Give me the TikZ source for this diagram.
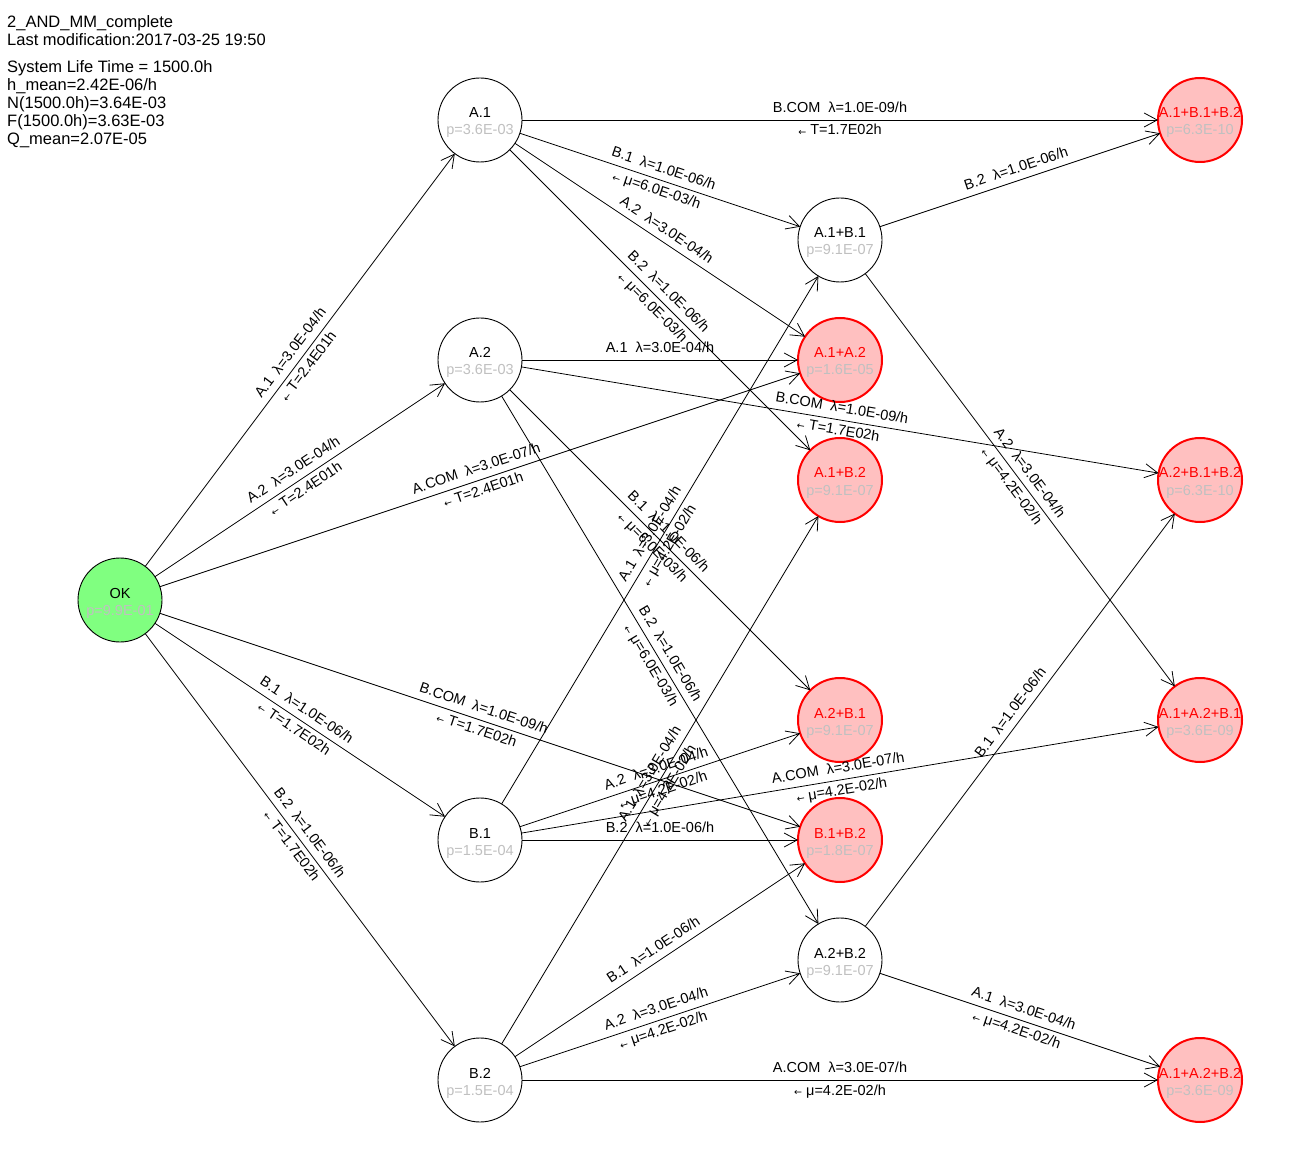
\documentclass[tikz,border=0pt]{standalone}
\usepackage{fontspec}
\setmainfont{Liberation Sans}
\newfontfamily\arrowfont{DejaVu Sans}
\usetikzlibrary{arrows.meta}
\definecolor{okgreen}{HTML}{80FF80}
\definecolor{failpink}{HTML}{FFC0C0}
\definecolor{pgray}{HTML}{C0C0C0}
\definecolor{failred}{HTML}{FF0000}
\newcommand\bk{{\arrowfont\fontsize{9.5}{9.5}\selectfont\raisebox{-0.5pt}{←}}}
\newcommand\stxt[4]{% node, name, p, colour
  \node[nm, text=#4] at ([yshift=2pt]#1.center) {#2};
  \node[pv] at ([yshift=-15pt]#1.center) {#3};}
\tikzset{
  state/.style={circle, minimum size=84pt, inner sep=0pt, outer sep=0pt, draw=black, line width=0.9pt, fill=white},
  okstate/.style={state, fill=okgreen},
  failstate/.style={state, draw=failred, fill=failpink, line width=2pt},
  nm/.style={anchor=base, inner sep=0pt, font=\fontsize{14.5}{14.5}\selectfont},
  pv/.style={nm, text=pgray},
  hdr/.style={anchor=base west, inner sep=0pt, font=\fontsize{16.5}{16.5}\selectfont},
  edge/.style={draw, line width=0.8pt, -{Straight Barb[length=13pt,width=14pt]}},
  rate/.style={sloped, pos=0.5, above=7pt, inner sep=0pt, text depth=0pt, font=\fontsize{14.5}{14.5}\selectfont},
  back/.style={sloped, pos=0.5, below=4pt, inner sep=0pt, text height=10.6pt, font=\fontsize{14.5}{14.5}\selectfont},
}
\begin{document}
\begin{tikzpicture}[x=1pt, y=-1pt]
\useasboundingbox[fill=white] (0,0) rectangle (1315,1155);
% header
\node[hdr] (h1) at (7,27.3) {2\_AND\_MM\_complete};
\node[hdr] (h2) at (7,45.3) {Last modification:2017-03-25 19:50};
\node[hdr] (h3) at (7,72.7) {System Life Time = 1500.0h};
\node[hdr] (h4) at (7,90.7) {h\_mean=2.42E-06/h};
\node[hdr] (h5) at (7,108.7) {N(1500.0h)=3.64E-03};
\node[hdr] (h6) at (7,126.7) {F(1500.0h)=3.63E-03};
\node[hdr] (h7) at (7,144.7) {Q\_mean=2.07E-05};
% states
\node[okstate] (OK) at (120,600) {};
\node[state] (A1) at (480,120) {};
\node[state] (A2) at (480,360) {};
\node[state] (B1) at (480,840) {};
\node[state] (B2) at (480,1080) {};
\node[state] (A1B1) at (840,240) {};
\node[failstate] (A1A2) at (840,360) {};
\node[failstate] (A1B2) at (840,480) {};
\node[failstate] (A2B1) at (840,720) {};
\node[failstate] (B1B2) at (840,840) {};
\node[state] (A2B2) at (840,960) {};
\node[failstate] (A1B1B2) at (1200,120) {};
\node[failstate] (A2B1B2) at (1200,480) {};
\node[failstate] (A1A2B1) at (1200,720) {};
\node[failstate] (A1A2B2) at (1200,1080) {};
% transitions from OK
\draw[edge] (OK) -- node[rate]{A.1\ \ λ=3.0E-04/h} node[back]{\bk\ T=2.4E01h} (A1);
\draw[edge] (OK) -- node[rate]{A.2\ \ λ=3.0E-04/h} node[back]{\bk\ T=2.4E01h} (A2);
\draw[edge] (OK) -- node[rate]{A.COM\ \ λ=3.0E-07/h} node[back]{\bk\ T=2.4E01h} (A1A2);
\draw[edge] (OK) -- node[rate]{B.1\ \ λ=1.0E-06/h} node[back]{\bk\ T=1.7E02h} (B1);
\draw[edge] (OK) -- node[rate]{B.2\ \ λ=1.0E-06/h} node[back]{\bk\ T=1.7E02h} (B2);
\draw[edge] (OK) -- node[rate]{B.COM\ \ λ=1.0E-09/h} node[back]{\bk\ T=1.7E02h} (B1B2);
% from A.1
\draw[edge] (A1) -- node[rate]{B.COM\ \ λ=1.0E-09/h} node[back]{\bk\ T=1.7E02h} (A1B1B2);
\draw[edge] (A1) -- node[rate]{B.1\ \ λ=1.0E-06/h} node[back]{\bk\ μ=6.0E-03/h} (A1B1);
\draw[edge] (A1) -- node[rate]{A.2\ \ λ=3.0E-04/h} (A1A2);
\draw[edge] (A1) -- node[rate]{B.2\ \ λ=1.0E-06/h} node[back]{\bk\ μ=6.0E-03/h} (A1B2);
% from A.2
\draw[edge] (A2) -- node[rate]{A.1\ \ λ=3.0E-04/h} (A1A2);
\draw[edge] (A2) -- node[rate]{B.COM\ \ λ=1.0E-09/h} node[back]{\bk\ T=1.7E02h} (A2B1B2);
\draw[edge] (A2) -- node[rate]{B.1\ \ λ=1.0E-06/h} node[back]{\bk\ μ=6.0E-03/h} (A2B1);
\draw[edge] (A2) -- node[rate]{B.2\ \ λ=1.0E-06/h} node[back]{\bk\ μ=6.0E-03/h} (A2B2);
% from B.1
\draw[edge] (B1) -- node[rate]{A.1\ \ λ=3.0E-04/h} node[back]{\bk\ μ=4.2E-02/h} (A1B1);
\draw[edge] (B1) -- node[rate]{A.2\ \ λ=3.0E-04/h} node[back]{\bk\ μ=4.2E-02/h} (A2B1);
\draw[edge] (B1) -- node[rate]{A.COM\ \ λ=3.0E-07/h} node[back]{\bk\ μ=4.2E-02/h} (A1A2B1);
\draw[edge] (B1) -- node[rate]{B.2\ \ λ=1.0E-06/h} (B1B2);
% from B.2
\draw[edge] (B2) -- node[rate]{A.1\ \ λ=3.0E-04/h} node[back]{\bk\ μ=4.2E-02/h} (A1B2);
\draw[edge] (B2) -- node[rate]{B.1\ \ λ=1.0E-06/h} (B1B2);
\draw[edge] (B2) -- node[rate]{A.2\ \ λ=3.0E-04/h} node[back]{\bk\ μ=4.2E-02/h} (A2B2);
\draw[edge] (B2) -- node[rate]{A.COM\ \ λ=3.0E-07/h} node[back]{\bk\ μ=4.2E-02/h} (A1A2B2);
% from double states
\draw[edge] (A1B1) -- node[rate]{B.2\ \ λ=1.0E-06/h} (A1B1B2);
\draw[edge] (A1B1) -- node[rate]{A.2\ \ λ=3.0E-04/h} node[back]{\bk\ μ=4.2E-02/h} (A1A2B1);
\draw[edge] (A2B2) -- node[rate]{B.1\ \ λ=1.0E-06/h} (A2B1B2);
\draw[edge] (A2B2) -- node[rate]{A.1\ \ λ=3.0E-04/h} node[back]{\bk\ μ=4.2E-02/h} (A1A2B2);
% state texts
\stxt{OK}{OK}{p=9.9E-01}{black}
\stxt{A1}{A.1}{p=3.6E-03}{black}
\stxt{A2}{A.2}{p=3.6E-03}{black}
\stxt{B1}{B.1}{p=1.5E-04}{black}
\stxt{B2}{B.2}{p=1.5E-04}{black}
\stxt{A1B1}{A.1+B.1}{p=9.1E-07}{black}
\stxt{A1A2}{A.1+A.2}{p=1.6E-05}{failred}
\stxt{A1B2}{A.1+B.2}{p=9.1E-07}{failred}
\stxt{A2B1}{A.2+B.1}{p=9.1E-07}{failred}
\stxt{B1B2}{B.1+B.2}{p=1.8E-07}{failred}
\stxt{A2B2}{A.2+B.2}{p=9.1E-07}{black}
\stxt{A1B1B2}{A.1+B.1+B.2}{p=6.3E-10}{failred}
\stxt{A2B1B2}{A.2+B.1+B.2}{p=6.3E-10}{failred}
\stxt{A1A2B1}{A.1+A.2+B.1}{p=3.6E-09}{failred}
\stxt{A1A2B2}{A.1+A.2+B.2}{p=3.6E-09}{failred}
\end{tikzpicture}
\end{document}
